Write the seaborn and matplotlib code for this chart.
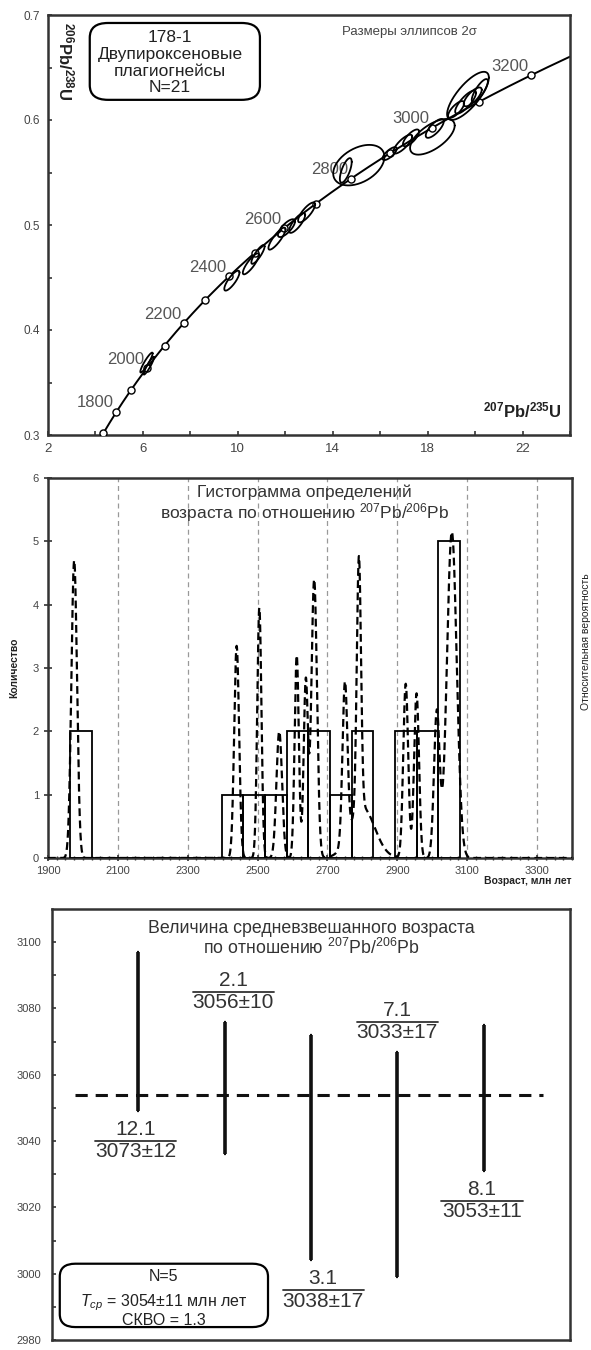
import numpy as np
import matplotlib
matplotlib.use("Agg")
import matplotlib.pyplot as plt
from matplotlib.patches import FancyBboxPatch
import seaborn as sns

sns.set_theme(style="white")
plt.rcParams["font.family"] = ["Liberation Sans", "DejaVu Sans"]
plt.rcParams["mathtext.fontset"] = "custom"
plt.rcParams["mathtext.rm"] = "Liberation Sans"
plt.rcParams["mathtext.it"] = "Liberation Sans:italic"
plt.rcParams["mathtext.bf"] = "Liberation Sans:bold"

# ---------------- concordia diagram ----------------
LAMBDA_238 = 1.55125e-10
LAMBDA_235 = 9.8485e-10
marker_ages = list(range(1700, 3201, 100))          # Ma, open circles on concordia
label_ages = [1800, 2000, 2200, 2400, 2600, 2800, 3000, 3200]

# analysed spots: 207Pb/235U, 206Pb/238U, 2-sigma half widths, error correlation
ell_x = [6.15, 6.25, 9.75, 10.55, 10.85, 11.65, 12.05, 12.5, 12.9, 15.1, 14.55,
         16.4, 16.95, 17.3, 18.2, 18.3, 19.7, 19.6, 19.9, 20.2, 19.2]
ell_y = [0.369, 0.366, 0.447, 0.463, 0.472, 0.487, 0.497, 0.502, 0.512, 0.557, 0.552,
         0.568, 0.577, 0.583, 0.584, 0.592, 0.623, 0.617, 0.622, 0.628, 0.610]
ell_sx = [0.26, 0.22, 0.32, 0.34, 0.28, 0.36, 0.36, 0.34, 0.36, 1.08, 0.25,
          0.30, 0.40, 0.34, 0.94, 0.38, 0.88, 0.44, 0.38, 0.34, 0.34]
ell_sy = [0.0095, 0.0085, 0.0095, 0.0100, 0.0090, 0.0105, 0.0085, 0.0095, 0.0095, 0.0193, 0.0117,
          0.0062, 0.0090, 0.0080, 0.0170, 0.0090, 0.0229, 0.0110, 0.0090, 0.0110, 0.0080]
ell_rho = [0.92, 0.93, 0.82, 0.85, 0.85, 0.85, 0.75, 0.80, 0.80, 0.41, 0.69,
           0.75, 0.80, 0.75, 0.63, 0.75, 0.76, 0.80, 0.75, 0.80, 0.75]

# ---------------- histogram ----------------
grain_ages = [1972, 1978, 2440, 2505, 2562, 2612, 2638, 2658, 2668, 2750, 2790, 2805,
              2922, 2930, 2958, 3012, 3033, 3038, 3053, 3056, 3073]
bin_start, bin_width = 1963, 62
# relative probability peaks: age, height, spread
peak_ages = [1975, 2440, 2505, 2562, 2612, 2638, 2662, 2750, 2790, 2800, 2924, 2955, 3013, 3056]
peak_heights = [4.7, 3.35, 3.95, 2.0, 3.2, 2.8, 4.4, 2.5, 4.0, 0.8, 2.75, 2.6, 2.3, 5.15]
peak_sigmas = [8, 7, 6, 8, 6, 6, 8, 7, 6, 35, 7, 7, 8, 14]

# ---------------- weighted mean ----------------
spot_ids = ["12.1", "2.1", "3.1", "7.1", "8.1"]
spot_ages = [3073, 3056, 3038, 3033, 3053]
spot_errs = [12, 10, 17, 17, 11]
mean_age, mean_err, mswd, n_spots = 3054, 11, 1.3, 5

INK = "#222222"
TICK = "#444444"

fig = plt.figure(figsize=(5.91, 13.5), dpi=100)
W, H = 591, 1350


def rect(l, t, r, b):
    return [l / W, 1 - b / H, (r - l) / W, (b - t) / H]


ax1 = fig.add_axes(rect(48, 15, 570, 435))
ax2 = fig.add_axes(rect(48, 478, 572, 858))
ax3 = fig.add_axes(rect(52, 909, 570, 1340))

for ax in (ax1, ax2, ax3):
    for s in ax.spines.values():
        s.set_linewidth(1.8)
        s.set_color("#333333")

# ===== panel 1: concordia =====
t_curve = np.linspace(1700, 3270, 500) * 1e6
cx = np.exp(LAMBDA_235 * t_curve) - 1
cy = np.exp(LAMBDA_238 * t_curve) - 1
sns.lineplot(x=cx, y=cy, sort=False, color="black", lw=1.4, ax=ax1)

tm = np.array(marker_ages) * 1e6
mx = np.exp(LAMBDA_235 * tm) - 1
my = np.exp(LAMBDA_238 * tm) - 1
sns.scatterplot(x=mx, y=my, color="white", edgecolor="black", linewidth=1.0,
                s=26, zorder=4, ax=ax1)

for a in label_ages:
    lx = np.exp(LAMBDA_235 * a * 1e6) - 1
    ly = np.exp(LAMBDA_238 * a * 1e6) - 1
    ax1.annotate(str(a), (lx, ly), xytext=(-2, 1), textcoords="offset points",
                 ha="right", va="bottom", fontsize=12, color="#555555", zorder=3)

tt = np.linspace(0, 2 * np.pi, 200)
for x0, y0, sx, sy, r in zip(ell_x, ell_y, ell_sx, ell_sy, ell_rho):
    ex = x0 + sx * np.cos(tt)
    ey = y0 + sy * (r * np.cos(tt) + np.sqrt(1 - r * r) * np.sin(tt))
    ax1.plot(ex, ey, color="black", lw=1.3, zorder=5)

ax1.set_xlim(2, 24)
ax1.set_ylim(0.3, 0.7)
ax1.set_xticks([2, 6, 10, 14, 18, 22])
ax1.set_xticks([4, 8, 12, 16, 20, 24], minor=True)
ax1.set_yticks([0.3, 0.4, 0.5, 0.6, 0.7])
ax1.set_yticks([0.35, 0.45, 0.55, 0.65], minor=True)
ax1.set_yticklabels(["0.3", "0.4", "0.5", "0.6", "0.7"])
ax1.tick_params(axis="both", which="both", direction="in", length=3, width=1.2,
                color="#333333", left=True, bottom=True)
ax1.tick_params(axis="x", labelsize=9.5, labelcolor=TICK, pad=6)
ax1.tick_params(axis="y", labelsize=8.5, labelcolor=TICK, pad=6)
ax1.set_xlabel("")
ax1.set_ylabel("")

ax1.text(2.72, 0.656, r"$\mathbf{^{206}Pb/^{238}U}$", rotation=270, ha="center",
         va="center", fontsize=12, color=INK)
ax1.text(0.985, 0.035, r"$\mathbf{^{207}Pb/^{235}U}$", transform=ax1.transAxes,
         ha="right", va="bottom", fontsize=12, color=INK)
ax1.text(17.24, 0.684, "Размеры эллипсов 2σ", ha="center", va="center",
         fontsize=9.5, color="#444444")

box1 = FancyBboxPatch((0.080, 0.798), 0.326, 0.183, transform=ax1.transAxes,
                      boxstyle="round,pad=0,rounding_size=0.035", fc="white",
                      ec="black", lw=1.6, zorder=6)
ax1.add_patch(box1)
for txt, ypx in zip(["178-1", "Двупироксеновые", "плагиогнейсы", "N=21"],
                    [38, 55, 72, 87]):
    ax1.text(0.234, (435 - ypx) / 420, txt, transform=ax1.transAxes, ha="center",
             va="center", fontsize=12.5, color=INK, zorder=7)

# ===== panel 2: histogram + probability =====
edges = np.arange(bin_start, bin_start + bin_width * 18 + 1, bin_width)
for g in range(2100, 3400, 200):
    ax2.axvline(g, color="#999999", lw=0.9, ls=(0, (4, 3)), zorder=0)
sns.histplot(x=grain_ages, bins=edges, fill=False, color="black", linewidth=1.3,
             ax=ax2, zorder=3)
ax2.set_xlim(1900, 3400)
ax2.set_ylim(0, 6)
ax2.set_xticks(list(range(1900, 3400, 200)))
ax2.set_xticks(list(range(1900, 3401, 25)), minor=True)
ax2.set_yticks(range(0, 7))
ax2.tick_params(axis="y", direction="inout", length=6, width=1.2, color="#333333",
                labelsize=8, labelcolor=TICK, left=True)
ax2.tick_params(axis="x", which="major", direction="inout", length=5, width=1.2,
                color="#333333", labelsize=8, labelcolor=TICK, bottom=True)
ax2.tick_params(axis="x", which="minor", direction="inout", length=3, width=1,
                color="#333333", bottom=True)
ax2.set_xlabel("")
ax2.set_ylabel("Количество", fontsize=7.5, fontweight="bold", color=INK, labelpad=10)
ax2.text(1.0, -0.048, "Возраст, млн лет", transform=ax2.transAxes, ha="right",
         va="top", fontsize=7.5, fontweight="bold", color=INK)
ax2.text(0.49, 0.982, "Гистограмма определений\nвозраста по отношению $^{207}$Pb/$^{206}$Pb",
         transform=ax2.transAxes, ha="center", va="top", fontsize=12.5, color="#333333",
         linespacing=1.05)

ax2b = ax2.twinx()
ages_grid = np.linspace(1900, 3400, 3001)
prob = np.zeros_like(ages_grid)
for a, h, s in zip(peak_ages, peak_heights, peak_sigmas):
    prob += h * np.exp(-0.5 * ((ages_grid - a) / s) ** 2)
ax2b.plot(ages_grid, prob, color="black", lw=1.6, ls=(0, (3.5, 2)), zorder=4)
ax2b.set_ylim(0, 6)
ax2b.set_yticks([])
for s in ax2b.spines.values():
    s.set_visible(False)
ax2b.set_ylabel("Относительная вероятность", fontsize=7.5, color=INK, rotation=90)
ax2b.yaxis.set_label_coords(1.017, 0.57)

# ===== panel 3: weighted mean =====
xpos = np.arange(1, len(spot_ages) + 1)
ax3.errorbar(xpos, spot_ages, yerr=2 * np.array(spot_errs), fmt="none",
             ecolor="#111111", elinewidth=2.6, capsize=0.8, capthick=1.6)
ax3.plot([0.27, 5.69], [mean_age, mean_age], color="#111111", lw=2.2,
         ls=(0, (4, 2.6)), zorder=1)

label_side = [-1, 1, -1, 1, -1]            # below / above the bar
label_dx = [-0.03, 0.10, 0.14, 0.0, -0.02]
for i, (sid, a, e) in enumerate(zip(spot_ids, spot_ages, spot_errs)):
    end = a + label_side[i] * 2 * e
    ly = end + label_side[i] * 9
    lx = xpos[i] + label_dx[i]
    ax3.plot([lx - 0.47, lx + 0.47], [ly, ly], color="#333333", lw=1.3)
    ax3.text(lx, ly + 0.6, sid, ha="center", va="bottom", fontsize=15, color="#333333")
    ax3.text(lx, ly - 0.4, f"{a}±{e}", ha="center", va="top", fontsize=15, color="#333333")

ax3.set_xlim(0, 6)
ax3.set_ylim(2980, 3110)
ax3.set_xticks([])
ax3.set_yticks(range(2980, 3101, 20))
ax3.set_yticks(range(2990, 3110, 20), minor=True)
ax3.tick_params(axis="y", which="both", direction="in", length=3, width=1.2,
                color="#333333", left=True, labelsize=8, labelcolor=TICK, pad=8)
ax3.text(0.5, 0.975, "Величина средневзвешанного возраста\nпо отношению $^{207}$Pb/$^{206}$Pb",
         transform=ax3.transAxes, ha="center", va="top", fontsize=12.8, color="#333333",
         linespacing=1.05)

box3 = FancyBboxPatch((0.015, 0.03), 0.402, 0.147, transform=ax3.transAxes,
                      boxstyle="round,pad=0,rounding_size=0.03", fc="white",
                      ec="black", lw=1.6, zorder=6)
ax3.add_patch(box3)
ax3.text(0.216, 0.147, f"N={n_spots}", transform=ax3.transAxes, ha="center",
         va="center", fontsize=11.5, color=INK, zorder=7)
ax3.text(0.216, 0.087, rf"$T_{{ср}}$ = {mean_age}±{mean_err} млн лет",
         transform=ax3.transAxes, ha="center", va="center", fontsize=11.5,
         color=INK, zorder=7)
ax3.text(0.216, 0.045, f"СКВО = {mswd}", transform=ax3.transAxes, ha="center",
         va="center", fontsize=11.5, color=INK, zorder=7)

fig.savefig("out.png", dpi=100, facecolor="white")
